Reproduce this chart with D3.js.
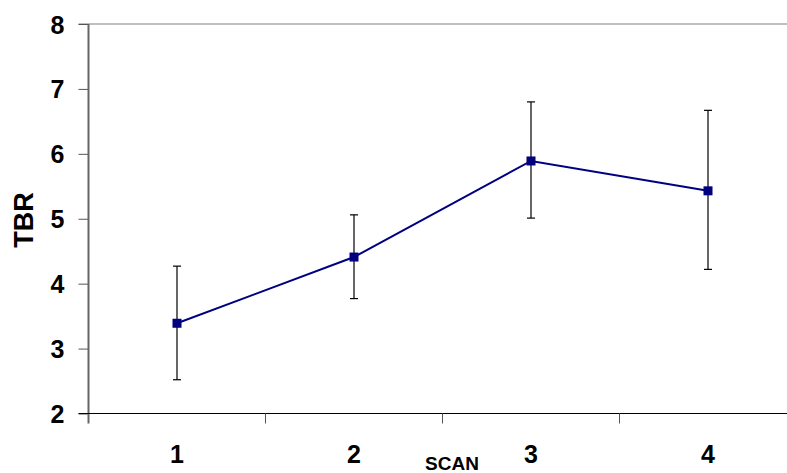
<!DOCTYPE html>
<meta charset="utf-8" />
<script src="https://d3js.org/d3.v7.min.js"></script>
<style>
  body { margin: 0; background: #fff; }
  text { font-family: "Liberation Sans", Arial, sans-serif; font-weight: bold; fill: #000; }
</style>
<body>
<div id="chart"></div>
<script>
  // data
  var scans = ["1", "2", "3", "4"];
  var tbrMean = [3.39, 4.41, 5.89, 5.43];
  var tbrLow = [2.52, 3.77, 5.01, 4.22];
  var tbrHigh = [4.27, 5.06, 6.80, 6.67];
  var yTicks = [2, 3, 4, 5, 6, 7, 8];

  var W = 787, H = 473;
  var plotLeft = 88.5, plotTop = 24, plotBottom = 413.5;
  var band = 177;

  var svg = d3.select("#chart").append("svg")
    .attr("width", W).attr("height", H);

  var x = d3.scaleBand().domain(scans)
    .range([plotLeft, plotLeft + band * scans.length]).padding(0);
  var y = d3.scaleLinear().domain([2, 8]).range([plotBottom, plotTop]);

  // top border
  svg.append("line")
    .attr("x1", plotLeft - 10).attr("x2", W)
    .attr("y1", y(8)).attr("y2", y(8))
    .attr("stroke", "#aaa").attr("stroke-width", 1.5);

  // y axis
  var yAxis = svg.append("g")
    .attr("transform", "translate(" + plotLeft + ",0)")
    .call(d3.axisLeft(y).tickValues(yTicks).tickSize(10).tickPadding(14)
      .tickFormat(d3.format("d")));
  yAxis.select(".domain").remove();
  yAxis.selectAll(".tick line").attr("stroke", "#555");
  yAxis.selectAll(".tick text")
    .style("font-size", "25px")
    .style("font-weight", "bold")
    .style("font-family", "'Liberation Sans', Arial, sans-serif")
    .attr("dy", "0.36em");
  svg.append("line")
    .attr("x1", plotLeft).attr("x2", plotLeft)
    .attr("y1", plotTop).attr("y2", plotBottom + 10)
    .attr("stroke", "#666").attr("stroke-width", 2);

  // x axis baseline + separators
  svg.append("line")
    .attr("x1", plotLeft - 10).attr("x2", W)
    .attr("y1", plotBottom).attr("y2", plotBottom)
    .attr("stroke", "#000").attr("stroke-width", 1.2);
  svg.selectAll(".sep").data(scans.slice(1))
    .enter().append("line")
    .attr("x1", function(d) { return x(d); })
    .attr("x2", function(d) { return x(d); })
    .attr("y1", plotBottom).attr("y2", plotBottom + 10)
    .attr("stroke", "#555").attr("stroke-width", 1);

  svg.selectAll(".xlab").data(scans)
    .enter().append("text")
    .attr("x", function(d) { return x(d) + x.bandwidth() / 2; })
    .attr("y", 463)
    .attr("text-anchor", "middle")
    .style("font-size", "25px")
    .text(function(d) { return d; });

  // axis titles
  svg.append("text")
    .attr("x", 452).attr("y", 470)
    .attr("text-anchor", "middle")
    .style("font-size", "19px")
    .text("SCAN");
  svg.append("text")
    .attr("transform", "translate(33,220) rotate(-90)")
    .attr("text-anchor", "middle")
    .style("font-size", "27px")
    .text("TBR");

  var cx = function(i) { return x(scans[i]) + x.bandwidth() / 2; };

  // error bars
  var err = svg.append("g").attr("stroke", "#000").attr("stroke-width", 1.2);
  scans.forEach(function(s, i) {
    err.append("line")
      .attr("x1", cx(i)).attr("x2", cx(i))
      .attr("y1", y(tbrLow[i])).attr("y2", y(tbrHigh[i]));
    [tbrLow[i], tbrHigh[i]].forEach(function(v) {
      err.append("line")
        .attr("x1", cx(i) - 4).attr("x2", cx(i) + 4)
        .attr("y1", y(v)).attr("y2", y(v));
    });
  });

  // line
  svg.append("path")
    .datum(tbrMean)
    .attr("fill", "none")
    .attr("stroke", "#000080")
    .attr("stroke-width", 2)
    .attr("d", d3.line()
      .x(function(d, i) { return cx(i); })
      .y(function(d) { return y(d); }));

  // markers
  svg.selectAll(".pt").data(tbrMean)
    .enter().append("rect")
    .attr("x", function(d, i) { return cx(i) - 4.5; })
    .attr("y", function(d) { return y(d) - 4.5; })
    .attr("width", 9).attr("height", 9)
    .attr("fill", "#000080");
</script>
</body>
